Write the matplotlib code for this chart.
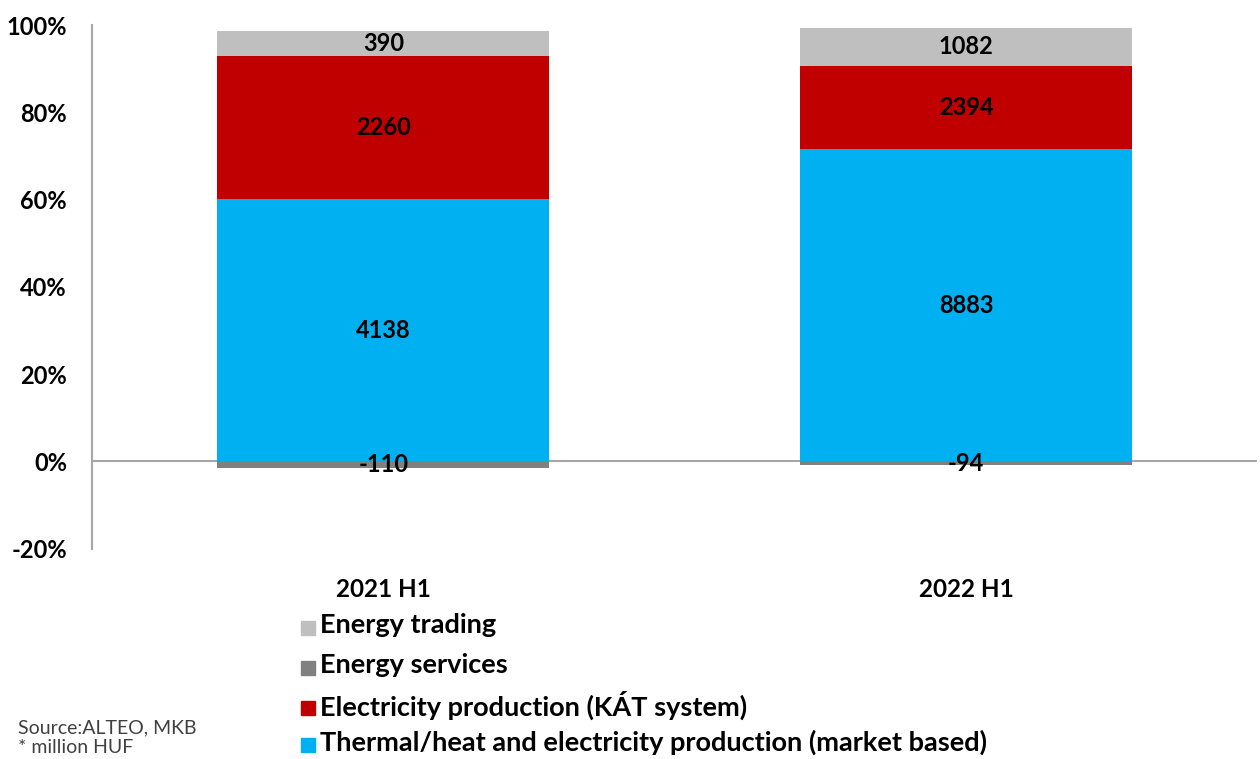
import matplotlib.pyplot as plt
from matplotlib.patches import Rectangle
import numpy as np

periods = ["2021 H1", "2022 H1"]

# segment values (million HUF) shown as labels
thermal = [4138, 8883]
kat = [2260, 2394]
services = [-110, -94]
trading = [390, 1082]

# share of total (%)
thermal_pct = [60.1, 71.5]
kat_pct = [32.8, 19.2]
services_pct = [-1.6, -0.8]
trading_pct = [5.8, 8.7]

names = ["Thermal/heat and electricity production (market based)",
         "Electricity production (KÁT system)",
         "Energy services",
         "Energy trading"]
colors = ["#00B0F0", "#C00000", "#808080", "#BFBFBF"]

plt.rcParams['font.family'] = ['Lato', 'DejaVu Sans']

W, H = 1260, 759
fig = plt.figure(figsize=(W / 100, H / 100), dpi=100)
ax = fig.add_axes([0.073, 0.277, 0.925, 0.69])

x = np.arange(len(periods))
w = 0.57

b1 = ax.bar(x, thermal_pct, w, color=colors[0])
b2 = ax.bar(x, kat_pct, w, bottom=thermal_pct, color=colors[1])
b3 = ax.bar(x, services_pct, w, color=colors[2])
top2 = np.array(thermal_pct) + np.array(kat_pct)
b4 = ax.bar(x, trading_pct, w, bottom=top2, color=colors[3])

for bars, vals in [(b1, thermal), (b2, kat), (b3, services), (b4, trading)]:
    ax.bar_label(bars, labels=[str(v) for v in vals], label_type="center",
                 fontsize=17, fontweight="bold", color="black")

ax.axhline(0, color="#A6A6A6", lw=1.5, zorder=0.5)
ax.set_ylim(-20, 100)
ax.set_xlim(-0.5, 1.5)
ax.set_yticks(range(-20, 101, 20))
ax.set_yticklabels([f"{t}%" for t in range(-20, 101, 20)], fontsize=17, fontweight="bold")
ax.set_xticks(x)
ax.set_xticklabels(periods, fontsize=17.5, fontweight="bold")
ax.tick_params(axis="y", length=0, pad=18)
ax.tick_params(axis="x", length=0, pad=21)
for s in ["top", "right", "bottom"]:
    ax.spines[s].set_visible(False)
ax.spines["left"].set_color("#A6A6A6")
ax.spines["left"].set_linewidth(1.5)

# legend drawn by hand so the rows sit evenly, as in the original
rows_y = [628, 668, 708, 745]
for yy, name, col in zip(rows_y, names[::-1], colors[::-1]):
    fig.patches.append(Rectangle((301 / W, 1 - (yy + 7) / H), 14 / W, 14 / H,
                                 transform=fig.transFigure, color=col))
    fig.text(320 / W, 1 - (yy - 5) / H, name, fontsize=19.5, fontweight="bold",
             va="center_baseline", ha="left")

fig.text(18 / W, 1 - 726 / H, "Source:ALTEO, MKB", fontsize=14, color="#404040",
         va="center_baseline")
fig.text(18 / W, 1 - 746 / H, "* million HUF", fontsize=14, color="#404040",
         va="center_baseline")

fig.savefig("out.png", dpi=100)
